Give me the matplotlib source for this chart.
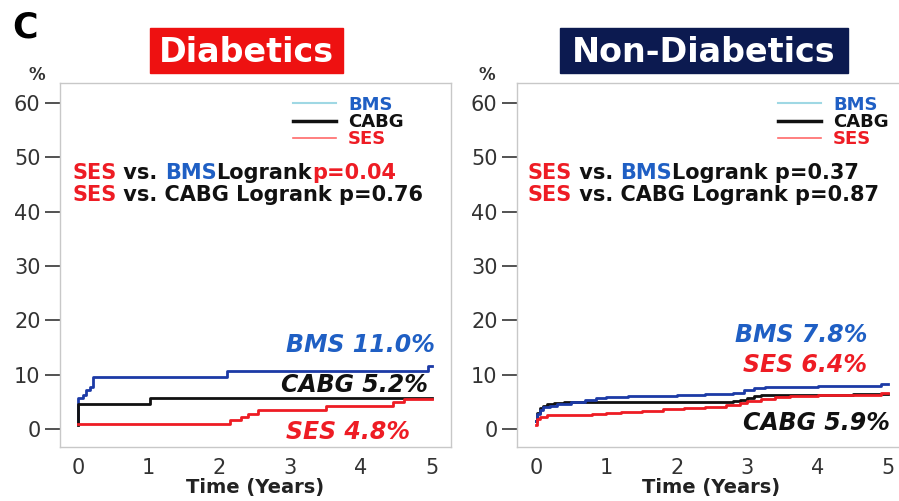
import matplotlib
matplotlib.use("Agg")
import matplotlib.pyplot as plt
from matplotlib.patches import Rectangle
from matplotlib.lines import Line2D

plt.rcParams['font.family'] = ['DejaVu Sans']

# ---------------- data ----------------
panels = ["Diabetics", "Non-Diabetics"]
x_ticks = [0, 1, 2, 3, 4, 5]
y_ticks = [0, 10, 20, 30, 40, 50, 60]

# Diabetics
d_bms_t = [0, 0.0, 0.07, 0.12, 0.17, 0.21, 2.1, 4.94, 5.0]
d_bms_y = [1.0, 5.7, 6.3, 7.2, 7.7, 9.6, 10.6, 11.6, 11.6]
d_cabg_t = [0, 0.0, 1.02, 5.0]
d_cabg_y = [0.8, 4.6, 5.7, 5.7]
d_ses_t = [0, 2.15, 2.3, 2.4, 2.55, 3.5, 4.45, 4.6, 5.0]
d_ses_y = [1.0, 1.7, 2.3, 2.8, 3.5, 4.3, 5.0, 5.5, 5.5]

# Non-Diabetics
n_bms_t = [0, 0.02, 0.05, 0.1, 0.2, 0.3, 0.5, 0.7, 0.85, 1.0, 1.3, 1.6, 2.0, 2.4,
           2.8, 2.95, 3.1, 3.25, 3.6, 4.0, 4.5, 4.9, 5.0]
n_bms_y = [1.5, 2.8, 3.5, 4.0, 4.3, 4.6, 5.0, 5.3, 5.7, 5.9, 6.0, 6.1, 6.3, 6.5,
           6.7, 7.1, 7.5, 7.7, 7.8, 7.9, 8.0, 8.3, 8.3]
n_cabg_t = [0, 0.02, 0.05, 0.1, 0.15, 0.25, 0.4, 2.8, 2.9, 3.0, 3.1, 3.2, 3.5, 4.5, 5.0]
n_cabg_y = [1.5, 3.0, 3.8, 4.3, 4.6, 4.8, 5.0, 5.1, 5.4, 5.8, 6.1, 6.3, 6.3, 6.4, 6.5]
n_ses_t = [0, 0.02, 0.06, 0.15, 0.8, 1.0, 1.2, 1.5, 1.8, 2.1, 2.4, 2.7, 2.9, 3.0,
           3.2, 3.4, 3.6, 4.0, 4.5, 4.9, 5.0]
n_ses_y = [0.8, 1.8, 2.2, 2.6, 2.7, 3.0, 3.2, 3.4, 3.6, 3.8, 4.1, 4.4, 4.8, 5.2,
           5.5, 5.9, 6.1, 6.2, 6.3, 6.6, 6.6]

d_labels = ["BMS 11.0%", "CABG 5.2%", "SES 4.8%"]
n_labels = ["BMS 7.8%", "SES 6.4%", "CABG 5.9%"]
d_pvals = ["p=0.04", "p=0.76"]
n_pvals = ["p=0.37", "p=0.87"]

# ---------------- style ----------------
BLUE = "#1c3aa6"
BLUE_T = "#1f5fc4"
RED = "#ee1c24"
BLACK = "#111111"
GREY = "#c8c8c8"

W, H = 899, 501
fig = plt.figure(figsize=(W / 100, H / 100), dpi=100)


def px(x0, y0, x1, y1):
    return [x0 / W, 1 - y1 / H, (x1 - x0) / W, (y1 - y0) / H]


ax1 = fig.add_axes(px(60, 83, 451, 447))
ax2 = fig.add_axes(px(517, 83, 905, 447))

for ax, x0, x1 in ((ax1, 60, 451), (ax2, 517, 905)):
    ax.set_ylim(-3.31, 63.7)
    ax.set_yticks(y_ticks)
    ax.set_xticks(x_ticks)
    for s in ax.spines.values():
        s.set_color(GREY)
        s.set_linewidth(1.0)
    ax.tick_params(axis='y', length=11, width=1.3, color="#444444", pad=3,
                   labelsize=15, labelcolor="#333333")
    ax.tick_params(axis='x', length=0, pad=8, labelsize=15, labelcolor="#333333")
    ax.set_xlabel("Time (Years)", fontsize=14, fontweight='bold', color="#222222",
                  labelpad=0)

ax1.set_xlim(-0.254, 5.27)
ax2.set_xlim(-0.27, 5.24)

lw = 2.0
ax1.plot(d_bms_t, d_bms_y, drawstyle='steps-post', color=BLUE, lw=lw)
ax1.plot(d_cabg_t, d_cabg_y, drawstyle='steps-post', color=BLACK, lw=lw)
ax1.plot(d_ses_t, d_ses_y, drawstyle='steps-post', color=RED, lw=lw)

ax2.plot(n_cabg_t, n_cabg_y, drawstyle='steps-post', color=BLACK, lw=lw)
ax2.plot(n_bms_t, n_bms_y, drawstyle='steps-post', color=BLUE, lw=lw)
ax2.plot(n_ses_t, n_ses_y, drawstyle='steps-post', color=RED, lw=lw)

# legends
handles = [Line2D([], [], color="#9fd8e4", lw=1.5),
           Line2D([], [], color=BLACK, lw=2.5),
           Line2D([], [], color="#ff6a6a", lw=1.2)]
for ax, xa in ((ax1, 0.596), (ax2, 0.673)):
    ax.legend(handles, ["BMS", "CABG", "SES"], loc='upper left',
              bbox_to_anchor=(xa, 0.965), frameon=False, borderpad=0,
              borderaxespad=0, handlelength=2.4, handletextpad=0.65,
              labelspacing=-0.05,
              prop={'weight': 'bold', 'size': 13},
              labelcolor=[BLUE_T, BLACK, RED])


def colored_line(ax, x, y, parts, size=15):
    t = ax.text(x, y, parts[0][0], color=parts[0][1], fontsize=size,
                fontweight='bold', transform=ax.transAxes, va='center', ha='left')
    prev = t
    for s, c in parts[1:]:
        prev = ax.annotate(s, xy=(1, 0), xycoords=prev, va='bottom', ha='left',
                           color=c, fontsize=size, fontweight='bold')


yl1 = 1 - (173 - 83) / 364
yl2 = 1 - (195 - 83) / 364
colored_line(ax1, 0.031, yl1, [("SES", RED), (" vs. ", BLACK), ("BMS", BLUE_T),
                               ("Logrank", BLACK), (d_pvals[0], RED)])
colored_line(ax1, 0.031, yl2, [("SES", RED), (" vs. CABG Logrank " + d_pvals[1], BLACK)])
colored_line(ax2, 0.028, yl1, [("SES", RED), (" vs. ", BLACK), ("BMS", BLUE_T),
                               ("Logrank " + n_pvals[0], BLACK)])
colored_line(ax2, 0.028, yl2, [("SES", RED), (" vs. CABG Logrank " + n_pvals[1], BLACK)])

# curve end labels
lab_kw = dict(fontsize=17, fontweight='bold', style='italic', ha='right', va='center')
ax1.text(5.04, 15.5, d_labels[0], color=BLUE_T, **lab_kw)
ax1.text(4.94, 8.1, d_labels[1], color=BLACK, **lab_kw)
ax1.text(4.69, -0.55, d_labels[2], color=RED, **lab_kw)
ax2.text(4.70, 17.3, n_labels[0], color=BLUE_T, **lab_kw)
ax2.text(4.70, 11.8, n_labels[1], color=RED, **lab_kw)
ax2.text(5.03, 1.1, n_labels[2], color=BLACK, **lab_kw)

# title boxes
fig.patches.append(Rectangle((150 / W, 1 - 73 / H), 193 / W, 45 / H,
                             transform=fig.transFigure, color="#ee1111", zorder=0))
fig.patches.append(Rectangle((560 / W, 1 - 73 / H), 288 / W, 45 / H,
                             transform=fig.transFigure, color="#0c1a50", zorder=0))
fig.text(246.5 / W, 1 - 52 / H, panels[0], color='white', fontsize=24,
         fontweight='bold', ha='center', va='center')
fig.text(704 / W, 1 - 52 / H, panels[1], color='white', fontsize=24,
         fontweight='bold', ha='center', va='center')

fig.text(12 / W, 1 - 38 / H, "C", fontsize=25, fontweight='bold', ha='left',
         va='baseline', color='black')
fig.text(36.5 / W, 1 - 75 / H, "%", fontsize=12, fontweight='bold', ha='center',
         va='center', color='#333333')
fig.text(486.5 / W, 1 - 75 / H, "%", fontsize=12, fontweight='bold', ha='center',
         va='center', color='#333333')

fig.savefig("out.png", dpi=100)
